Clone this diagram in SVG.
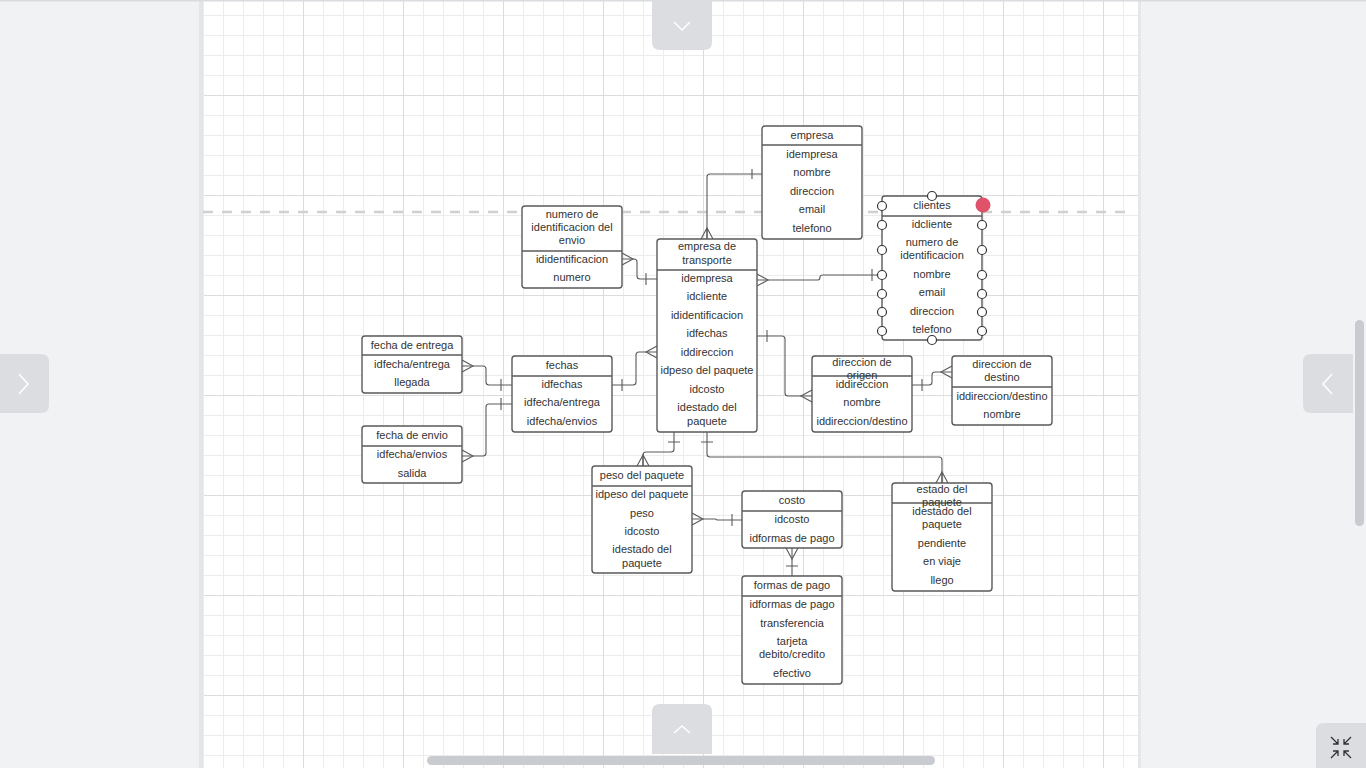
<svg xmlns="http://www.w3.org/2000/svg" width="1366" height="768" viewBox="0 0 1366 768">
<style>
.t{font-family:"Liberation Sans",Arial,sans-serif;font-size:11px;fill:#333;text-anchor:middle}
.box{fill:#fff;stroke:#5a5a5a;stroke-width:1.4}
.div{stroke:#5a5a5a;stroke-width:1.4}
.c{fill:none;stroke:#5a5a5a;stroke-width:1.1}
.h{fill:#fff;stroke:#333;stroke-width:1.2}
.ui{fill:#dcdde0}
.chev{fill:none;stroke:#fff;stroke-width:1.5}
</style>
<defs>
<pattern id="minor" patternUnits="userSpaceOnUse" x="203" y="15" width="20" height="20">
<rect x="0" y="0" width="20" height="1" fill="#ececec"/>
<rect x="0" y="0" width="1" height="20" fill="#ececec"/>
</pattern>
<pattern id="major" patternUnits="userSpaceOnUse" x="203" y="-5" width="100" height="100">
<rect x="0" y="0" width="100" height="1" fill="#dcdcdc"/>
<rect x="0" y="0" width="1" height="100" fill="#dcdcdc"/>
</pattern>
</defs>
<rect width="1366" height="768" fill="#f1f2f4"/>
<rect x="199" y="0" width="4" height="768" fill="#e4e5e8"/>
<rect x="1138" y="0" width="3" height="768" fill="#e6e7ea"/>
<rect x="203" y="0" width="935" height="768" fill="#fff"/>
<rect x="203" y="0" width="935" height="768" fill="url(#minor)"/>
<rect x="204" y="0" width="934" height="768" fill="url(#major)"/>
<rect x="0" y="0" width="1366" height="1.5" fill="#dadbde"/>
<line x1="203" y1="212" x2="1132" y2="212" stroke="#d0d0d0" stroke-width="2.5" stroke-dasharray="10,9"/>

<g id="connectors">
<!-- empresa -> empresa de transporte -->
<path class="c" d="M762 174 H710 Q707 174 707 177 V239"/>
<path class="c" d="M752 169 V179 M701 239 L707 228 L713 239 M707 228 V239"/>
<!-- numero de identificacion -> empresa de transporte -->
<path class="c" d="M622 259 H634 Q637 259 637 262 V276 Q637 279 640 279 H657"/>
<path class="c" d="M622 253 L633 259 L622 265 M646 273 V285"/>
<!-- empresa de transporte -> clientes -->
<path class="c" d="M757 280 H818 Q820 280 820 277 Q820 275 823 275 H882"/>
<path class="c" d="M757 274 L768 280 L757 286 M872 269 V281"/>
<!-- fechas -> empresa de transporte -->
<path class="c" d="M612 385 H633 Q636 385 636 382 V355 Q636 352 639 352 H657"/>
<path class="c" d="M622 379 V391 M657 346 L646 352 L657 358"/>
<!-- fecha de entrega -> fechas -->
<path class="c" d="M462 366 H483 Q486 366 486 369 V382 Q486 385 489 385 H512"/>
<path class="c" d="M462 360 L473 366 L462 372 M501 379 V391"/>
<!-- fecha de envio -> fechas -->
<path class="c" d="M462 456 H483 Q486 456 486 453 V407 Q486 404 489 404 H512"/>
<path class="c" d="M462 450 L473 456 L462 462 M501 398 V410"/>
<!-- empresa de transporte -> direccion de origen -->
<path class="c" d="M757 336 H782 Q785 336 785 339 V393 Q785 396 788 396 H812"/>
<path class="c" d="M767 330 V342 M812 390 L801 396 L812 402"/>
<!-- direccion de origen -> direccion de destino -->
<path class="c" d="M912 385 H929 Q932 385 932 382 V375 Q932 372 935 372 H952"/>
<path class="c" d="M922 379 V391 M952 366 L941 372 L952 378"/>
<!-- empresa de transporte -> peso del paquete -->
<path class="c" d="M674 432 V449 Q674 452 671 452 H646 Q643 452 643 455 V466"/>
<path class="c" d="M668 442 H680 M637 466 L643 455 L649 466 M643 455 V466"/>
<!-- empresa de transporte -> estado del paquete -->
<path class="c" d="M707 432 V454 Q707 457 710 457 H939 Q942 457 942 460 V483"/>
<path class="c" d="M701 442 H713 M936 483 L942 472 L948 483 M942 472 V483"/>
<!-- peso del paquete -> costo -->
<path class="c" d="M692 519 H715 Q717 519 717 520 H742"/>
<path class="c" d="M692 513 L703 519 L692 525 M732 514 V526"/>
<!-- costo -> formas de pago -->
<path class="c" d="M792 548 V576"/>
<path class="c" d="M786 548 L792 559 L798 548 M786 566 H798"/>
</g>

<g id="empresa">
<rect class="box" x="762" y="126" width="100" height="113" rx="3"/>
<line class="div" x1="762" y1="145" x2="862" y2="145"/>
<text class="t" x="812" y="139">empresa</text>
<text class="t" x="812" y="158">idempresa</text>
<text class="t" x="812" y="176">nombre</text>
<text class="t" x="812" y="195">direccion</text>
<text class="t" x="812" y="213">email</text>
<text class="t" x="812" y="232">telefono</text>
</g>

<g id="clientes">
<rect class="box" x="882" y="196" width="100" height="144" rx="3"/>
<line class="div" x1="882" y1="216" x2="982" y2="216"/>
<text class="t" x="932" y="209">clientes</text>
<text class="t" x="932" y="228">idcliente</text>
<text class="t" x="932" y="246">numero de</text>
<text class="t" x="932" y="259">identificacion</text>
<text class="t" x="932" y="278">nombre</text>
<text class="t" x="932" y="296">email</text>
<text class="t" x="932" y="315">direccion</text>
<text class="t" x="932" y="333">telefono</text>
<circle class="h" cx="932" cy="196" r="4.5"/>
<circle class="h" cx="932" cy="340" r="4.5"/>
<circle class="h" cx="882" cy="206" r="4.5"/>
<circle class="h" cx="882" cy="225" r="4.5"/>
<circle class="h" cx="882" cy="250" r="4.5"/>
<circle class="h" cx="882" cy="275" r="4.5"/>
<circle class="h" cx="882" cy="294" r="4.5"/>
<circle class="h" cx="882" cy="312" r="4.5"/>
<circle class="h" cx="882" cy="331" r="4.5"/>
<circle class="h" cx="982" cy="225" r="4.5"/>
<circle class="h" cx="982" cy="250" r="4.5"/>
<circle class="h" cx="982" cy="275" r="4.5"/>
<circle class="h" cx="982" cy="294" r="4.5"/>
<circle class="h" cx="982" cy="312" r="4.5"/>
<circle class="h" cx="982" cy="331" r="4.5"/>
<circle cx="983" cy="205" r="7.5" fill="#e0516a"/>
</g>

<g id="numero-identificacion-envio">
<rect class="box" x="522" y="206" width="100" height="82" rx="3"/>
<line class="div" x1="522" y1="251" x2="622" y2="251"/>
<text class="t" x="572" y="218">numero de</text>
<text class="t" x="572" y="231">identificacion del</text>
<text class="t" x="572" y="244">envio</text>
<text class="t" x="572" y="263">ididentificacion</text>
<text class="t" x="572" y="281">numero</text>
</g>

<g id="empresa-de-transporte">
<rect class="box" x="657" y="239" width="100" height="193" rx="3"/>
<line class="div" x1="657" y1="270" x2="757" y2="270"/>
<text class="t" x="707" y="250">empresa de</text>
<text class="t" x="707" y="264">transporte</text>
<text class="t" x="707" y="282">idempresa</text>
<text class="t" x="707" y="300">idcliente</text>
<text class="t" x="707" y="319">ididentificacion</text>
<text class="t" x="707" y="337">idfechas</text>
<text class="t" x="707" y="356">iddireccion</text>
<text class="t" x="707" y="374">idpeso del paquete</text>
<text class="t" x="707" y="393">idcosto</text>
<text class="t" x="707" y="411">idestado del</text>
<text class="t" x="707" y="425">paquete</text>
</g>

<g id="fecha-de-entrega">
<rect class="box" x="362" y="336" width="100" height="57" rx="3"/>
<line class="div" x1="362" y1="355" x2="462" y2="355"/>
<text class="t" x="412" y="349">fecha de entrega</text>
<text class="t" x="412" y="368">idfecha/entrega</text>
<text class="t" x="412" y="386">llegada</text>
</g>

<g id="fechas">
<rect class="box" x="512" y="356" width="100" height="76" rx="3"/>
<line class="div" x1="512" y1="376" x2="612" y2="376"/>
<text class="t" x="562" y="369">fechas</text>
<text class="t" x="562" y="388">idfechas</text>
<text class="t" x="562" y="406">idfecha/entrega</text>
<text class="t" x="562" y="425">idfecha/envios</text>
</g>

<g id="fecha-de-envio">
<rect class="box" x="362" y="426" width="100" height="57" rx="3"/>
<line class="div" x1="362" y1="446" x2="462" y2="446"/>
<text class="t" x="412" y="439">fecha de envio</text>
<text class="t" x="412" y="458">idfecha/envios</text>
<text class="t" x="412" y="477">salida</text>
</g>

<g id="direccion-de-origen">
<rect class="box" x="812" y="356" width="100" height="76" rx="3"/>
<line class="div" x1="812" y1="376" x2="912" y2="376"/>
<text class="t" x="862" y="366">direccion de</text>
<text class="t" x="862" y="379">origen</text>
<text class="t" x="862" y="388">iddireccion</text>
<text class="t" x="862" y="406">nombre</text>
<text class="t" x="862" y="425">iddireccion/destino</text>
</g>

<g id="direccion-de-destino">
<rect class="box" x="952" y="356" width="100" height="69" rx="3"/>
<line class="div" x1="952" y1="387" x2="1052" y2="387"/>
<text class="t" x="1002" y="368">direccion de</text>
<text class="t" x="1002" y="381">destino</text>
<text class="t" x="1002" y="400">iddireccion/destino</text>
<text class="t" x="1002" y="418">nombre</text>
</g>

<g id="peso-del-paquete">
<rect class="box" x="592" y="466" width="100" height="107" rx="3"/>
<line class="div" x1="592" y1="486" x2="692" y2="486"/>
<text class="t" x="642" y="479">peso del paquete</text>
<text class="t" x="642" y="498">idpeso del paquete</text>
<text class="t" x="642" y="517">peso</text>
<text class="t" x="642" y="535">idcosto</text>
<text class="t" x="642" y="553">idestado del</text>
<text class="t" x="642" y="567">paquete</text>
</g>

<g id="costo">
<rect class="box" x="742" y="491" width="100" height="57" rx="3"/>
<line class="div" x1="742" y1="511" x2="842" y2="511"/>
<text class="t" x="792" y="504">costo</text>
<text class="t" x="792" y="523">idcosto</text>
<text class="t" x="792" y="542">idformas de pago</text>
</g>

<g id="formas-de-pago">
<rect class="box" x="742" y="576" width="100" height="108" rx="3"/>
<line class="div" x1="742" y1="596" x2="842" y2="596"/>
<text class="t" x="792" y="589">formas de pago</text>
<text class="t" x="792" y="608">idformas de pago</text>
<text class="t" x="792" y="627">transferencia</text>
<text class="t" x="792" y="645">tarjeta</text>
<text class="t" x="792" y="658">debito/credito</text>
<text class="t" x="792" y="677">efectivo</text>
</g>

<g id="estado-del-paquete">
<rect class="box" x="892" y="483" width="100" height="108" rx="3"/>
<line class="div" x1="892" y1="503" x2="992" y2="503"/>
<text class="t" x="942" y="493">estado del</text>
<text class="t" x="942" y="506">paquete</text>
<text class="t" x="942" y="515">idestado del</text>
<text class="t" x="942" y="528">paquete</text>
<text class="t" x="942" y="547">pendiente</text>
<text class="t" x="942" y="565">en viaje</text>
<text class="t" x="942" y="584">llego</text>
</g>

<g id="ui">
<path class="ui" d="M652 0 H712 V42 Q712 50 704 50 H660 Q652 50 652 42 Z"/>
<path class="chev" d="M674 22 L682 30 L690 22"/>
<path class="ui" d="M652 754 H712 V712 Q712 704 704 704 H660 Q652 704 652 712 Z"/>
<path class="chev" d="M674 733 L682 726 L690 733"/>
<path class="ui" d="M0 354 H41 Q49 354 49 362 V405 Q49 413 41 413 H0 Z"/>
<path class="chev" d="M19 374 L28 384 L19 394"/>
<path class="ui" d="M1353 354 H1311 Q1303 354 1303 362 V405 Q1303 413 1311 413 H1353 Z"/>
<path class="chev" d="M1332 374 L1323 384 L1332 394"/>
<rect x="1355" y="320" width="9" height="206" rx="4.5" fill="#c8cbcf"/>
<rect x="427" y="756" width="508" height="9" rx="4.5" fill="#c8cbcf"/>
<path class="ui" d="M1366 723 V768 H1316 V731 Q1316 723 1324 723 Z"/>
<path fill="none" stroke="#333" stroke-width="1.3" d="M1331 737 L1338 744 M1338 739 V744 H1333 M1351 737 L1344 744 M1344 739 V744 H1349 M1331 758 L1338 751 M1333 751 H1338 V756 M1351 758 L1344 751 M1349 751 H1344 V756"/>
</g>
</svg>
